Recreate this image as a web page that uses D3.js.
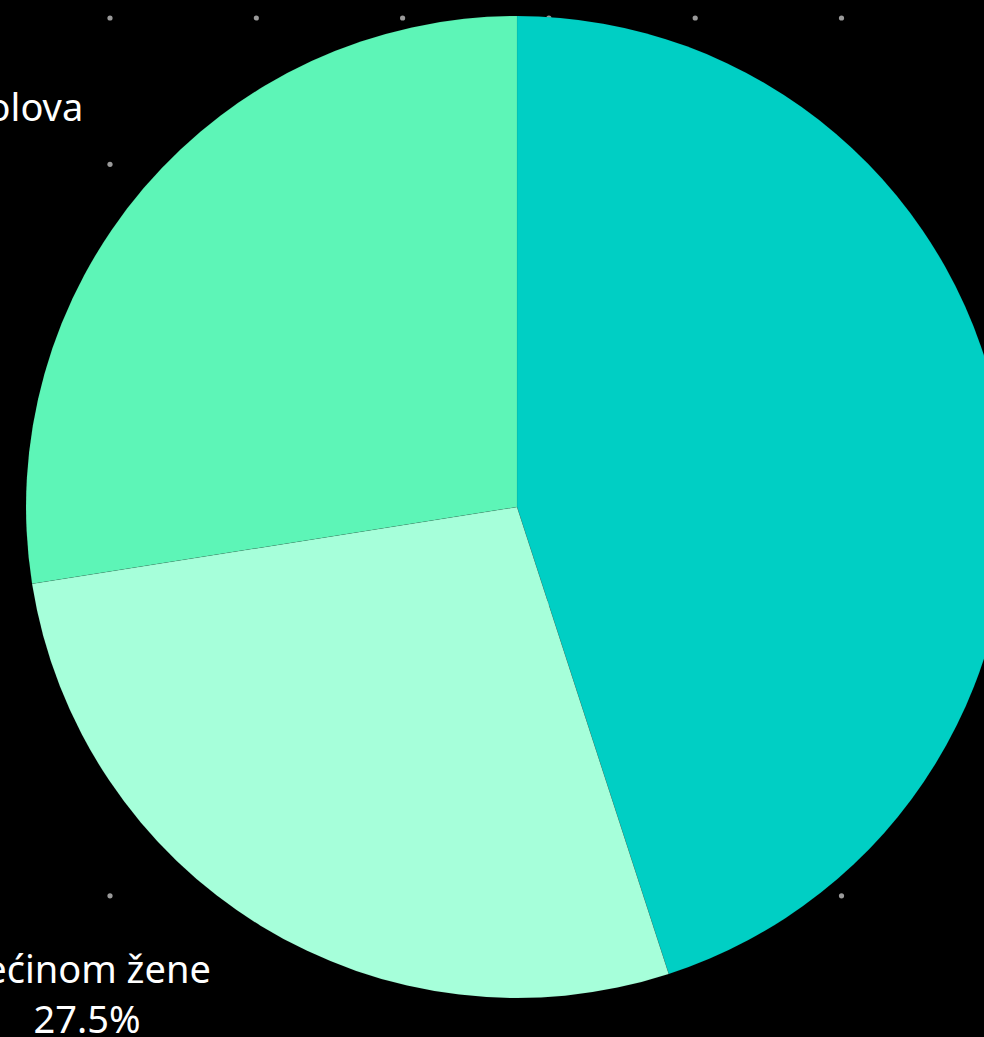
<!DOCTYPE html>
<html>
<head>
<meta charset="utf-8">
<script src="https://cdn.jsdelivr.net/npm/d3@7"></script>
<style>
html,body{margin:0;padding:0;background:#000;overflow:hidden;}
svg{display:block;}
</style>
</head>
<body>
<svg id="chart" width="984" height="1037"></svg>
<script>
const categories = ["Većinom muškarci", "Većinom žene", "Podjednako oba polova"];
const values = [45, 27.5, 27.5];
const valueLabels = ["45%", "27.5%", "27.5%"];
const colors = ["#00cfc4", "#a6ffda", "#5df5b7"];

const W = 984, H = 1037;
const cx = 517, cy = 507, R = 491;
const svg = d3.select("#chart");
svg.append("rect").attr("width", W).attr("height", H).attr("fill", "#000");

// background dot grid
const step = 146.3;
const gx = d3.range(-36.3, W + 10, step);
const gy = d3.range(18, H + 10, step);
const dots = svg.append("g");
gy.forEach(y => gx.forEach(x => {
  dots.append("circle").attr("cx", x).attr("cy", y).attr("r", 2.6).attr("fill", "#9a9a9a");
}));

const pie = d3.pie().sort(null).value(d => d)(values);
const arc = d3.arc().innerRadius(0).outerRadius(R);
const g = svg.append("g").attr("transform", `translate(${cx},${cy})`);
g.selectAll("path").data(pie).join("path")
  .attr("d", arc)
  .attr("fill", (d, i) => colors[i])
  .attr("stroke", "rgba(0,0,0,0.08)")
  .attr("stroke-width", 0.8);

// labels (placed outside the pie, as in the source)
const labelPos = [
  {x: cx + 740, y: cy - 40},
  {x: 87, y: 983},
  {x: -126, y: 121}
];
const font = "'Noto Sans', 'Open Sans', sans-serif";
categories.forEach((c, i) => {
  const t = svg.append("text")
    .attr("x", labelPos[i].x).attr("y", labelPos[i].y)
    .attr("text-anchor", "middle")
    .attr("fill", "#ffffff")
    .attr("font-family", font)
    .attr("font-size", 38);
  t.append("tspan").attr("x", labelPos[i].x).attr("dy", 0).text(c);
  t.append("tspan").attr("x", labelPos[i].x).attr("dy", 50).text(valueLabels[i]);
});
</script>
</body>
</html>
